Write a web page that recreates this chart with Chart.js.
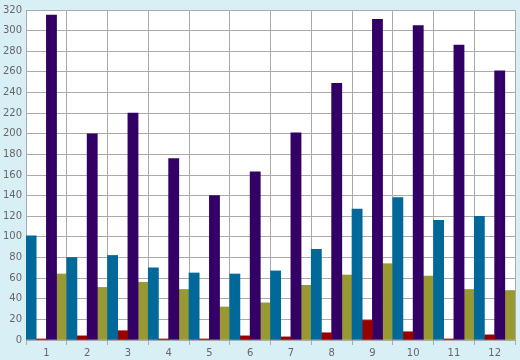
<!DOCTYPE html>
<html>
<head>
<meta charset="utf-8">
<script src="https://cdn.jsdelivr.net/npm/chart.js@4/dist/chart.umd.min.js"></script>
<style>
  html, body { margin: 0; padding: 0; background: #d9eff6; }
  canvas { display: block; }
</style>
</head>
<body>
<canvas id="chart" width="520" height="360"></canvas>
<script>
// Data
const categories = ["1", "2", "3", "4", "5", "6", "7", "8", "9", "10", "11", "12"];
const blueValues   = [101, 80, 82, 70, 65, 64, 67, 88, 127, 138, 116, 120];
const redValues    = [1, 4, 9, 1, 1, 4, 3, 7, 19, 8, 1, 5];
const purpleValues = [315, 200, 220, 176, 140, 163, 201, 249, 311, 305, 286, 261];
const oliveValues  = [64, 51, 56, 49, 32, 36, 53, 63, 74, 62, 49, 48];
const yTicks = { min: 0, max: 320, step: 20 };

// paint the page blue and the plot area white
const plotBackground = {
    id: "plotBackground",
    beforeDraw(chart) {
        const ctx = chart.ctx;
        const a = chart.chartArea;
        ctx.save();
        ctx.fillStyle = "#d9eff6";
        ctx.fillRect(0, 0, chart.width, chart.height);
        ctx.fillStyle = "#ffffff";
        ctx.fillRect(a.left, a.top, a.right - a.left, a.bottom - a.top);
        ctx.restore();
    }
};

function makeSet(label, data, color) {
    return {
        label,
        data,
        backgroundColor: color,
        borderWidth: 0,
        categoryPercentage: 1,
        barPercentage: 1
    };
}

new Chart(document.getElementById("chart"), {
    type: "bar",
    data: {
        labels: categories,
        datasets: [
            makeSet("A", blueValues, "#00699a"),
            makeSet("B", redValues, "#990000"),
            makeSet("C", purpleValues, "#330066"),
            makeSet("D", oliveValues, "#999933")
        ]
    },
    options: {
        responsive: false,
        animation: false,
        devicePixelRatio: 1,
        layout: { padding: { top: 5.5, right: 5, left: 0, bottom: 0 } },
        plugins: {
            legend: { display: false },
            tooltip: { enabled: false }
        },
        scales: {
            x: {
                grid: { color: "#aaaaaa", lineWidth: 1, tickLength: 5, offset: true },
                border: { color: "#aaaaaa" },
                ticks: { color: "#666666", font: { family: "DejaVu Sans", size: 10 }, padding: 2 },
                afterFit: s => { s.height = 20; }
            },
            y: {
                min: yTicks.min,
                max: yTicks.max,
                grid: { color: "#aaaaaa", lineWidth: 1, drawTicks: false },
                border: { color: "#aaaaaa" },
                ticks: {
                    stepSize: yTicks.step,
                    color: "#666666",
                    font: { family: "DejaVu Sans", size: 10 },
                    padding: 4
                },
                afterFit: s => { s.width = 26; }
            }
        }
    },
    plugins: [plotBackground]
});
</script>
</body>
</html>
